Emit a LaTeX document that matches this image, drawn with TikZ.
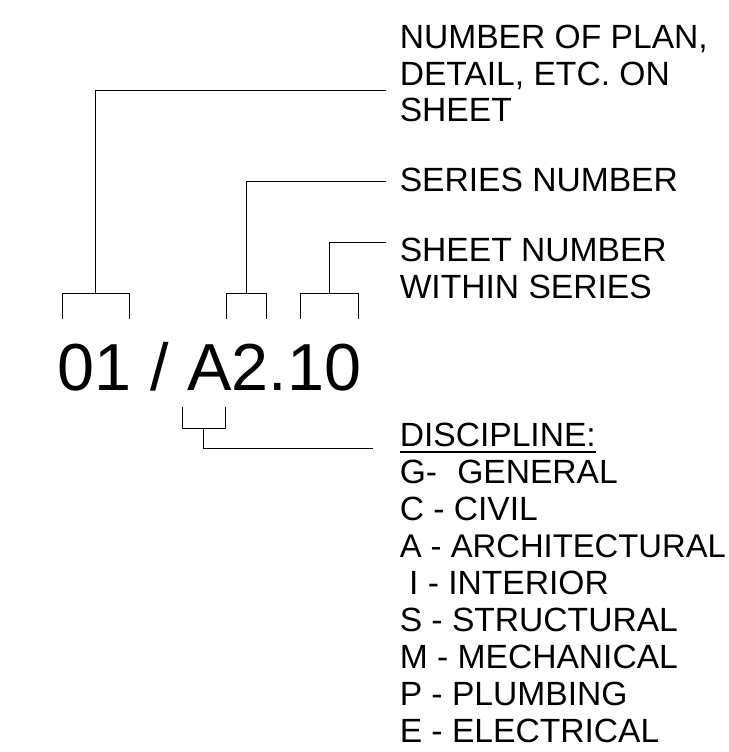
\documentclass[tikz,border=0pt]{standalone}
\usepackage{fontspec}
\setmainfont{Liberation Sans}
\begin{document}
\begin{tikzpicture}[x=0.75pt,y=-0.75pt,
  lbl/.style={anchor=base west,inner sep=0pt,font=\fontsize{25.2pt}{28pt}\selectfont},
  big/.style={anchor=base west,inner sep=0pt,font=\fontsize{49.9pt}{55pt}\selectfont},
  lead/.style={draw=black,line width=0.75pt}]
\useasboundingbox (0,0) rectangle (728,752);

% main code
\node[big] (code) at (57.6,390) {01 / A2.10};

% brackets (above)
\draw[lead] (62,319) -- (62,293) -- (129,293) -- (129,319);
\draw[lead] (226.7,319) -- (226.7,293) -- (266.7,293) -- (266.7,319);
\draw[lead] (300.7,319) -- (300.7,293) -- (358.3,293) -- (358.3,319);
\coordinate (b1) at (95,293);
\coordinate (b2) at (246.7,293);
\coordinate (b3) at (329.3,293);
% bracket (below A)
\draw[lead] (182,407) -- (182,428.7) -- (225.7,428.7) -- (225.7,407);
\coordinate (b4) at (203.7,428.7);

% leader ends
\coordinate (l1) at (386,91);
\coordinate (l2) at (386,182);
\coordinate (l3) at (386,242.5);
\coordinate (l4) at (373.3,448.3);

\draw[lead] (b1) |- (l1);
\draw[lead] (b2) |- (l2);
\draw[lead] (b3) |- (l3);
\draw[lead] (b4) |- (l4);

% labels
\node[lbl] (n1a) at (399.5,48.5) {NUMBER OF PLAN,};
\node[lbl] (n1b) at (399.5,85.5) {DETAIL, ETC. ON};
\node[lbl] (n1c) at (399.5,122) {SHEET};
\node[lbl] (n2) at (399.5,192) {SERIES NUMBER};
\node[lbl] (n3a) at (399.5,261) {SHEET NUMBER};
\node[lbl] (n3b) at (399.5,298) {WITHIN SERIES};

\node[lbl] (d0) at (399.5,446.7) {DISCIPLINE:};
\draw[line width=1.5pt] ([yshift=-4.1pt]d0.base west) -- ([yshift=-4.1pt]d0.base east);
\node[lbl] (d1) at (399.5,483.7) {G-\hspace{0.6em}GENERAL};
\node[lbl] (d2) at (399.5,520.7) {C - CIVIL};
\node[lbl,font=\fontsize{24.6pt}{28pt}\selectfont] (d3) at (399.5,557.7) {A - ARCHITECTURAL};
\node[lbl] (d4) at (399.5,594.7) {\hspace{0.278em}I - INTERIOR};
\node[lbl] (d5) at (399.5,631.7) {S - STRUCTURAL};
\node[lbl] (d6) at (399.5,668.7) {M - MECHANICAL};
\node[lbl] (d7) at (399.5,705.7) {P - PLUMBING};
\node[lbl] (d8) at (399.5,742.7) {E - ELECTRICAL};
\end{tikzpicture}
\end{document}
